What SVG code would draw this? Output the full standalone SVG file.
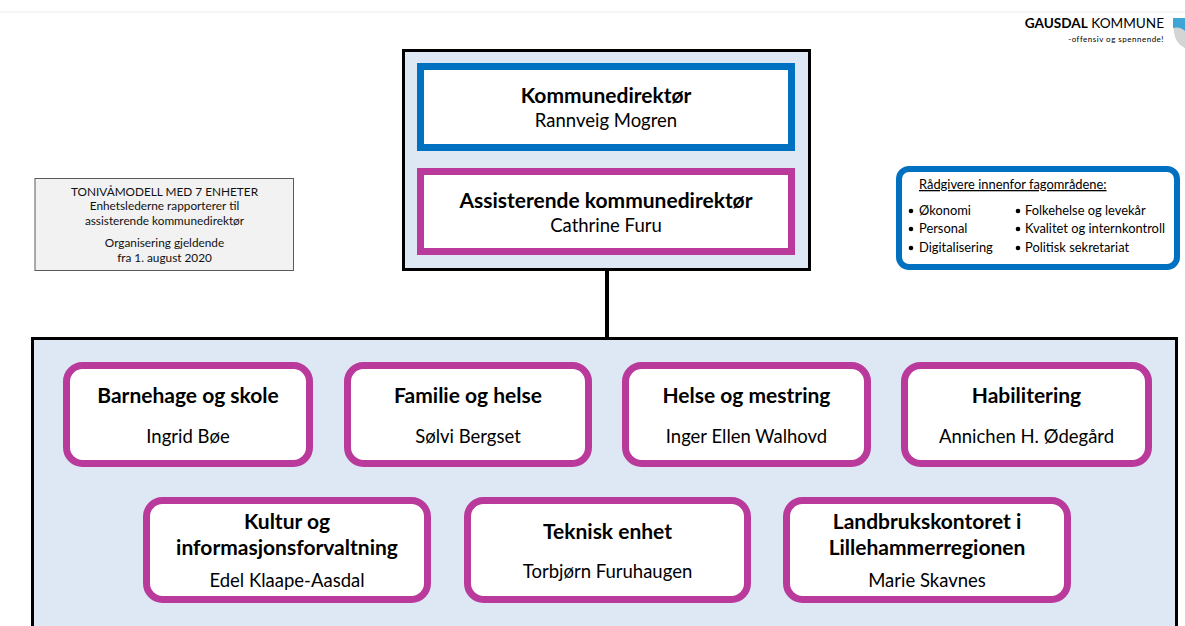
<svg xmlns="http://www.w3.org/2000/svg" width="1185" height="626" viewBox="0 0 1185 626">
<style>
  text { font-family: Lato, "Liberation Sans", sans-serif; fill: #000; }
  .t { font-weight: bold; font-size: 21px; text-anchor: middle; }
  .n { font-size: 18.5px; text-anchor: middle; }
  .unit { fill: #fff; stroke: #b93a9b; stroke-width: 7; }
  .small { font-size: 11.8px; text-anchor: middle; fill: #111; }
  .adv { font-size: 12.9px; }
</style>
<rect x="0" y="0" width="1185" height="626" fill="#fff"/>
<line x1="0" y1="12" x2="1185" y2="12" stroke="#ececec" stroke-width="1"/>

<g id="logo">
  <text x="1164" y="28" font-size="13.6" text-anchor="end" fill="#222"><tspan font-weight="bold">GAUSDAL</tspan> KOMMUNE</text>
  <text x="1164" y="42" font-size="8" letter-spacing="0.5" text-anchor="end" fill="#333">-offensiv og spennende!</text>
  <path d="M1173,18 L1185,18 L1185,48 Q1178,45 1175,37 Q1173,29 1173,18 Z" fill="#d4d4d4"/>
  <path d="M1173,18 L1185,18 L1185,31 Q1180,26 1173,28 Z" fill="#3ea6d6"/>
</g>

<g id="info">
  <rect x="35" y="178.5" width="258.5" height="92" fill="#f2f2f2" stroke="#5a5a5a" stroke-width="1"/>
  <text class="small" x="164.5" y="196">TONIVÅMODELL MED 7 ENHETER</text>
  <text class="small" x="164.5" y="210">Enhetslederne rapporterer til</text>
  <text class="small" x="164.5" y="225">assisterende kommunedirektør</text>
  <text class="small" x="164.5" y="247">Organisering gjeldende</text>
  <text class="small" x="164.5" y="262">fra 1. august 2020</text>
</g>

<g id="ledelse">
  <rect x="403.5" y="50.5" width="406" height="219" fill="#dee8f4" stroke="#000" stroke-width="3"/>
  <g id="kommunedirektor">
    <rect x="420.5" y="66.5" width="371" height="81" fill="#fff" stroke="#0070c0" stroke-width="7"/>
    <text class="t" x="606" y="103">Kommunedirektør</text>
    <text class="n" x="606" y="127">Rannveig Mogren</text>
  </g>
  <g id="ass-kommunedirektor">
    <rect x="420.5" y="171.5" width="371" height="80" fill="#fff" stroke="#b93a9b" stroke-width="7"/>
    <text class="t" x="606" y="208">Assisterende kommunedirektør</text>
    <text class="n" x="606" y="232">Cathrine Furu</text>
  </g>
</g>

<g id="connectors">
  <line x1="607" y1="270" x2="607" y2="339" stroke="#000" stroke-width="4"/>
</g>

<g id="enheter">
  <rect x="32.5" y="338.5" width="1144" height="300" fill="#dee8f4" stroke="#000" stroke-width="3"/>
  <g id="barnehage-skole">
    <rect class="unit" x="66.5" y="365.5" width="243" height="98" rx="16"/>
    <text class="t" x="188" y="403">Barnehage og skole</text>
    <text class="n" x="188" y="443">Ingrid Bøe</text>
  </g>
  <g id="familie-helse">
    <rect class="unit" x="347.5" y="365.5" width="241" height="98" rx="16"/>
    <text class="t" x="468" y="403">Familie og helse</text>
    <text class="n" x="468" y="443">Sølvi Bergset</text>
  </g>
  <g id="helse-mestring">
    <rect class="unit" x="625.5" y="365.5" width="242" height="98" rx="16"/>
    <text class="t" x="746.5" y="403">Helse og mestring</text>
    <text class="n" x="746.5" y="443">Inger Ellen Walhovd</text>
  </g>
  <g id="habilitering">
    <rect class="unit" x="904.5" y="365.5" width="244" height="98" rx="16"/>
    <text class="t" x="1026.5" y="403">Habilitering</text>
    <text class="n" x="1026.5" y="443">Annichen H. Ødegård</text>
  </g>
  <g id="kultur">
    <rect class="unit" x="146.5" y="500.5" width="281" height="99" rx="16"/>
    <text class="t" x="287" y="529">Kultur og</text>
    <text class="t" x="287" y="555">informasjonsforvaltning</text>
    <text class="n" x="287" y="587">Edel Klaape-Aasdal</text>
  </g>
  <g id="teknisk">
    <rect class="unit" x="467.5" y="500.5" width="280" height="99" rx="16"/>
    <text class="t" x="607.5" y="539">Teknisk enhet</text>
    <text class="n" x="607.5" y="578">Torbjørn Furuhaugen</text>
  </g>
  <g id="landbruk">
    <rect class="unit" x="786.5" y="500.5" width="281" height="99" rx="16"/>
    <text class="t" x="927" y="529">Landbrukskontoret i</text>
    <text class="t" x="927" y="555">Lillehammerregionen</text>
    <text class="n" x="927" y="587">Marie Skavnes</text>
  </g>
</g>

<g id="radgivere">
  <rect x="899" y="169" width="278" height="98" rx="10" fill="#fff" stroke="#0070c0" stroke-width="6"/>
  <text class="adv" x="919" y="189" text-decoration="underline">Rådgivere innenfor fagområdene:</text>
  <g fill="#000">
    <circle cx="911" cy="211" r="2.3"/><circle cx="911" cy="229" r="2.3"/><circle cx="911" cy="248" r="2.3"/>
    <circle cx="1018" cy="211" r="2.3"/><circle cx="1018" cy="229" r="2.3"/><circle cx="1018" cy="248" r="2.3"/>
  </g>
  <text class="adv" x="919" y="215">Økonomi</text>
  <text class="adv" x="919" y="233">Personal</text>
  <text class="adv" x="919" y="252">Digitalisering</text>
  <text class="adv" x="1025" y="215">Folkehelse og levekår</text>
  <text class="adv" x="1025" y="233">Kvalitet og internkontroll</text>
  <text class="adv" x="1025" y="252">Politisk sekretariat</text>
</g>
</svg>
